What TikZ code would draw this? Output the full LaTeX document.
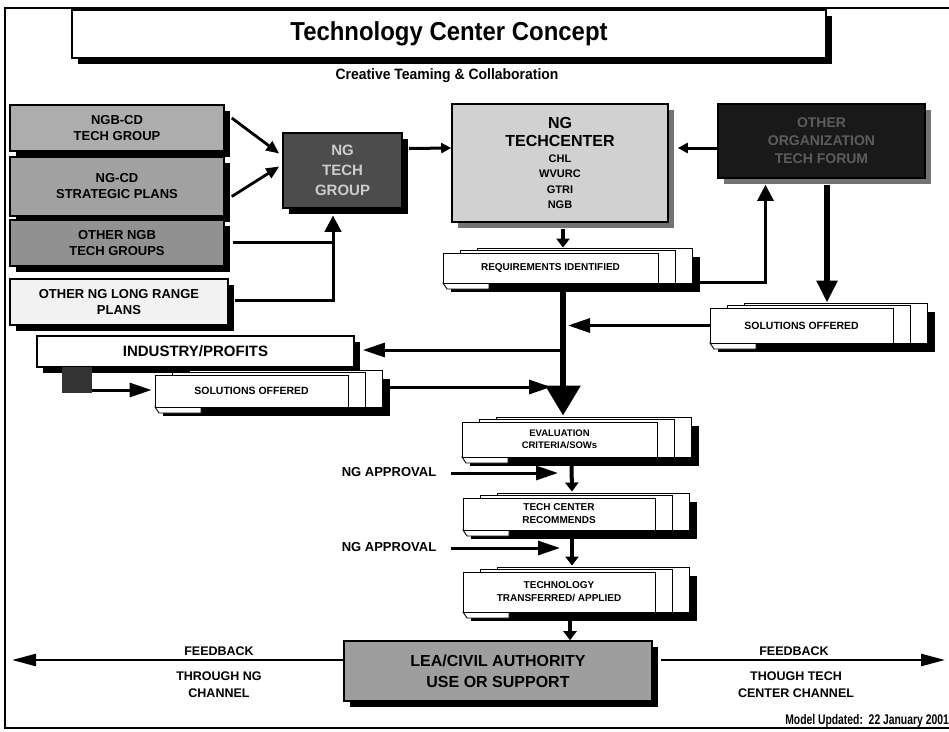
\documentclass[tikz,border=0pt]{standalone}
\usepackage{fontspec}
\setmainfont{Liberation Sans}
\usetikzlibrary{arrows.meta,calc,shadows}
\definecolor{hatchA}{gray}{0.68}
\definecolor{hatchB}{gray}{0.63}
\definecolor{hatchC}{gray}{0.57}
\definecolor{paleBox}{gray}{0.95}
\definecolor{darkGrp}{gray}{0.30}
\definecolor{darkFor}{gray}{0.10}
\definecolor{tcFill}{gray}{0.82}
\definecolor{leaFill}{gray}{0.62}
\definecolor{grpText}{gray}{0.80}
\definecolor{forText}{gray}{0.36}
\definecolor{forShadow}{gray}{0.45}
\newcommand\fs[2]{\fontsize{#1}{#2}\selectfont}
\tikzset{
  bx/.style={draw=black, line width=1.6pt, inner sep=0pt, align=center,
    general shadow={fill=black, shadow xshift=6pt, shadow yshift=-6pt}},
  bxgray/.style={draw=black, line width=1.6pt, inner sep=0pt, align=center,
    general shadow={fill=forShadow, shadow xshift=6pt, shadow yshift=-6pt}},
  pg/.style={draw=black, line width=0.9pt, fill=white},
  docfront/.style={draw=black, line width=0.9pt, fill=white, inner sep=0pt, align=center},
  lbl/.style={inner sep=0pt, align=center},
  arrA/.style={line width=2.8pt, -{Triangle[length=13pt,width=11pt]}},
  arrB/.style={line width=3pt, -{Triangle[length=16pt,width=16pt]}},
  arrC/.style={line width=3pt, -{Triangle[length=10pt,width=10pt]}},
  arrD/.style={line width=4pt, -{Triangle[length=9pt,width=13pt]}},
  arrE/.style={line width=3pt, -{Triangle[length=22pt,width=14pt]}},
  arrF/.style={line width=6pt, -{Triangle[length=30pt,width=34pt]}},
  arrG/.style={line width=6pt, -{Triangle[length=22pt,width=20pt]}},
  fbarr/.style={line width=2.5pt, -{Triangle[length=24pt,width=12pt]}},
  plain/.style={line width=3pt}
}
% name, x1, y1, x2, y2, font, text
\newcommand\docstack[7]{%
  \fill[black] (#2+8,#3+4) rectangle (#4+42,#5+9);
  \filldraw[pg] (#2+34,#3-5) rectangle (#4+34,#5);
  \filldraw[pg] (#2+17,#3-3) rectangle (#4+17,#5);
  \filldraw[pg] (#2,#5) -- (#2+4,#5+6) -- (#2+46,#5+6) -- (#2+46,#5) -- cycle;
  \node[docfront, font=\bfseries#6, minimum width={#4-#2}, minimum height={#5-#3}]
    (#1) at ({(#2+#4)/2},{(#3+#5)/2}) {#7};
}
\begin{document}
\begin{tikzpicture}[x=1pt,y=-1pt]
\useasboundingbox (0,0) rectangle (949,731);
\fill[white] (0,0) rectangle (949,731);
% frame
\draw[line width=1.5pt] (949,8) -- (5,8) -- (5,728) -- (949,728);

% title
\node[bx, fill=white, minimum width=754, minimum height=48, font=\bfseries\fs{26}{30}]
  (title) at (449,34) {\scalebox{0.92}[1]{Technology Center Concept}};
\node[lbl, font=\bfseries\fs{15}{17}] (sub) at (447,76)
  {\scalebox{0.93}[1]{Creative Teaming \& Collaboration}};

% left boxes
\node[bx, fill=hatchA, minimum width=214, minimum height=46, font=\bfseries\fs{13}{16}]
  (n1) at (117,128) {NGB-CD\\TECH GROUP};
\node[bx, fill=hatchB, minimum width=214, minimum height=59, font=\bfseries\fs{13}{16}]
  (n2) at (117,186.5) {NG-CD\\STRATEGIC PLANS};
\node[bx, fill=hatchC, minimum width=214, minimum height=46, font=\bfseries\fs{13}{16}]
  (n3) at (117,243) {OTHER NGB\\TECH GROUPS};
\node[bx, fill=paleBox, minimum width=218, minimum height=46, font=\bfseries\fs{13}{16}]
  (n4) at (119,302) {OTHER NG LONG RANGE\\PLANS};

% NG tech group
\node[bx, fill=darkGrp, text=grpText, minimum width=119, minimum height=75, font=\bfseries\fs{15}{20}]
  (ngtg) at (342.5,170.5) {NG\\TECH\\GROUP};

% techcenter
\node[bxgray, fill=tcFill, minimum width=216, minimum height=118, text width=216, font=\bfseries]
  (tc) at (560,163) {\fs{16}{18}NG\\TECHCENTER\par\fs{11}{15.5}CHL\\WVURC\\GTRI\\NGB\par};

% other organization tech forum
\node[bxgray, fill=darkFor, text=forText, minimum width=207, minimum height=74, font=\bfseries\fs{14}{18}]
  (dark) at (821.5,141) {OTHER\\ORGANIZATION\\TECH FORUM};

% industry
\node[bx, fill=white, minimum width=317, minimum height=31, font=\bfseries\fs{15}{17}]
  (ind) at (195.5,351.5) {INDUSTRY/PROFITS};
\node[fill=black!80, minimum width=30, minimum height=26, inner sep=0pt] (sq) at (77,380) {};

% document stacks
\docstack{req}{443}{253}{658}{283}{\fs{10}{12}}{REQUIREMENTS IDENTIFIED}
\docstack{solR}{710}{308}{893}{343}{\fs{10.5}{12}}{SOLUTIONS OFFERED}
\docstack{solL}{155}{375}{348}{407}{\fs{10.5}{12}}{SOLUTIONS OFFERED}
\docstack{eval}{462}{422}{657}{457}{\fs{9.5}{12.5}}{EVALUATION\\CRITERIA/SOWs}
\docstack{rec}{463}{498}{655}{530}{\fs{10}{13}}{TECH CENTER\\RECOMMENDS}
\docstack{trans}{463}{572}{655}{612}{\fs{10}{13}}{TECHNOLOGY\\TRANSFERRED/ APPLIED}

% LEA box
\node[bx, fill=leaFill, minimum width=308, minimum height=60, font=\bfseries\fs{16}{21}]
  (lea) at (498,671) {LEA/CIVIL AUTHORITY\\USE OR SUPPORT};

% labels
\node[lbl, font=\bfseries\fs{13}{15}] (ap1) at (389,472) {NG APPROVAL};
\node[lbl, font=\bfseries\fs{13}{15}] (ap2) at (389,547) {NG APPROVAL};
\node[lbl, font=\bfseries\fs{12.5}{15}] (fbl1) at (219,651) {FEEDBACK};
\node[lbl, font=\bfseries\fs{12.5}{17}] (fbl2) at (219,685) {THROUGH NG\\CHANNEL};
\node[lbl, font=\bfseries\fs{12.5}{15}] (fbr1) at (794,651) {FEEDBACK};
\node[lbl, font=\bfseries\fs{12.5}{17}] (fbr2) at (796,685) {THOUGH TECH\\CENTER CHANNEL};
\node[lbl, anchor=east, font=\bfseries\fs{14}{16}] (mu) at (949,721)
  {\scalebox{0.74}[1]{Model Updated:\ \ 22 January 2001}};

% helper coordinates
\coordinate (mainx) at (563,0);
\coordinate (fbL) at (12,660);
\coordinate (fbR) at (945,660);

% connectors
\draw[arrA] ($(n1.east)+(7,-10)$) -- ($(ngtg.west)+(-3,-17)$);
\draw[arrA] ($(n2.east)+(7,10)$) -- ($(ngtg.west)+(-3,-4)$);
\draw[arrB] ($(n3.east)+(8,-1)$) -| ($(ngtg.south)+(-9.5,7)$);
\draw[arrB] ($(n4.east)+(6,-2)$) -| ($(ngtg.south)+(-9.5,7)$);
\draw[arrC] ($(ngtg.east)+(6,-22)$) -- ($(tc.west)+(0,-15)$);
\draw[arrC] ($(dark.west)+(0,7)$) -- ($(tc.east)+(9,-15)$);
\draw[arrD] ($(tc.south)+(3,6)$) -- ($(req.north)+(12.5,-5)$);
\draw[arrB] ($(req.east)+(42,14)$) -| ($(dark.south)+(-56,6)$);
\draw[arrG] ($(dark.south)+(5.5,6)$) -- ($(solR.north)+(25.5,-5)$);
\draw[arrE] (solR.west) -- ($(solR.west -| mainx)+(5,0)$);
\draw[arrF] ($(req.south -| mainx)+(0,9)$) -- ($(eval.north -| mainx)+(0,-6)$);
\draw[arrE] ($(ind.east -| mainx)+(0,-1.5)$) -- ($(ind.east)+(8,-1.5)$);
\draw[arrE] ($(sq.east)+(0,10)$) -- ($(solL.west)+(-3,-1)$);
\draw[arrE] ($(solL.east)+(38,-4)$) -- ($(solL.east -| mainx)+(-12,-4)$);
\draw[arrD] ($(eval.south)+(12,8)$) -- ($(rec.north)+(13,-6)$);
\draw[arrE] ($(ap1.east)+(15,1)$) -- ($(ap1.east -| mainx)+(-5,1)$);
\draw[arrD] ($(rec.south)+(13,8)$) -- ($(trans.north)+(13,-6)$);
\draw[arrE] ($(ap2.east)+(15,1)$) -- ($(ap2.east -| mainx)+(-3,1)$);
\draw[arrD] ($(trans.south)+(11,8)$) -- ($(lea.north)+(72,0)$);
\draw[fbarr] ($(lea.west)+(0,-11)$) -- (fbL);
\draw[fbarr] ($(lea.east)+(8,-11)$) -- (fbR);
\end{tikzpicture}
\end{document}
